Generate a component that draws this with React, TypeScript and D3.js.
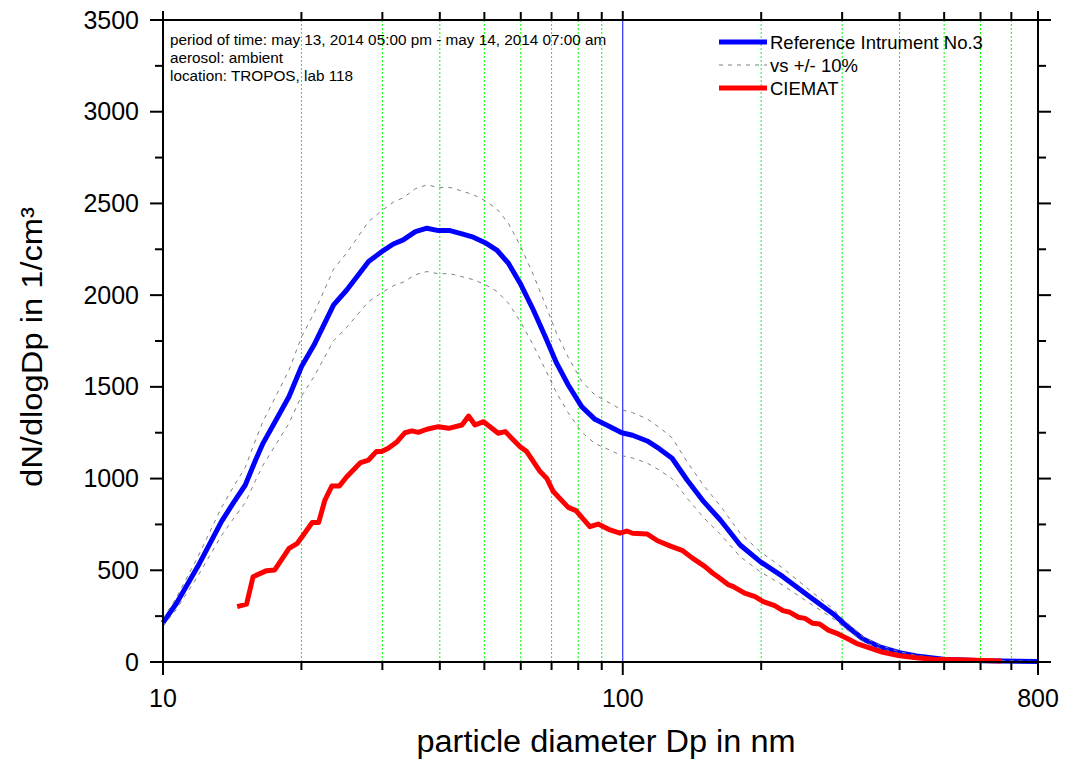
import React from "react";
import * as d3 from "d3";

// Reference instrument No.3 (blue)
const refDiameters = [10, 10.7, 11.9, 13.4, 14.2, 15.1, 15.9, 16.5, 17.7, 18.8, 20.0, 21.3, 23.5, 25.1, 28.0, 29.9, 31.7, 33.3, 35.4, 37.5, 39.7, 42.1, 44.7, 47.3, 50.2, 53.2, 56.4, 59.8, 63.9, 67.8, 71.8, 76.1, 81.4, 87.0, 93.8, 99.5, 105, 113, 120, 128, 138, 150, 163, 180, 199, 223, 255, 287, 307, 333, 362, 400, 435, 498, 608, 800];
const refValues = [215, 320, 520, 765, 865, 965, 1101, 1192, 1329, 1447, 1610, 1728, 1947, 2028, 2183, 2237, 2279, 2301, 2346, 2365, 2352, 2352, 2334, 2316, 2286, 2246, 2174, 2065, 1919, 1774, 1629, 1510, 1392, 1323, 1283, 1250, 1236, 1205, 1163, 1111, 992, 874, 774, 638, 547, 465, 356, 262, 196, 125, 83, 51, 33, 15, 7, 3];

// CIEMAT (red)
const ciematDiameters = [14.5, 15.2, 15.7, 16.8, 17.5, 18.8, 19.6, 20.2, 21.1, 21.8, 22.5, 23.3, 24.2, 25.1, 26.9, 28.0, 29.1, 29.9, 30.9, 32.3, 33.6, 34.8, 35.9, 37.5, 39.7, 41.8, 44.7, 46.2, 47.7, 49.8, 53.6, 55.5, 59.8, 61.8, 66.1, 68.3, 70.6, 76.1, 79.1, 84.8, 88.4, 93.8, 98.6, 102, 105, 113, 119, 127, 135, 142, 151, 157, 161, 170, 174, 184, 194, 202, 214, 223, 231, 241, 249, 259, 268, 280, 294, 307, 322, 339, 368, 400, 435, 473, 559, 666];
const ciematValues = [302, 316, 465, 498, 502, 620, 647, 692, 760, 760, 883, 960, 960, 1010, 1087, 1101, 1147, 1147, 1165, 1201, 1250, 1260, 1252, 1269, 1283, 1274, 1292, 1341, 1292, 1310, 1247, 1256, 1174, 1147, 1038, 1002, 929, 843, 825, 738, 752, 720, 702, 714, 702, 698, 661, 632, 607, 565, 520, 484, 465, 420, 411, 375, 356, 329, 307, 280, 271, 244, 238, 211, 207, 174, 153, 129, 102, 83, 53, 34, 23, 15, 11, 6];

// band of +/- 10 % around the reference
const bandFactors = [1.1, 0.9];

const xMajorTicks = [10, 100, 800];
const xMinorTicks = [20, 30, 40, 50, 60, 70, 80, 90, 200, 300, 400, 500, 600, 700];
const gridTicks = [20, 30, 40, 50, 60, 70, 80, 90, 200, 300, 400, 500, 600, 700];
const yMajorTicks = [0, 500, 1000, 1500, 2000, 2500, 3000, 3500];
const yMinorTicks = [250, 750, 1250, 1750, 2250, 2750, 3250];

const infoLines = [
  "period of time: may 13, 2014 05:00 pm - may 14, 2014 07:00 am",
  "aerosol: ambient",
  "location: TROPOS, lab 118",
];
const legendLabels = ["Reference Intrument No.3", "vs +/- 10%", "CIEMAT"];

const FONT = "'Liberation Sans', Arial, Helvetica, sans-serif";

export default function App() {
  const W = 1065;
  const H = 764;
  const left = 163;
  const right = 1038;
  const top = 20;
  const bottom = 662;

  const x = d3.scaleLog().domain([10, 800]).range([left, right]);
  const y = d3.scaleLinear().domain([0, 3500]).range([bottom, top]);

  const refPts = refDiameters.map((d, i) => [d, refValues[i]] as [number, number]);
  const ciePts = ciematDiameters.map((d, i) => [d, ciematValues[i]] as [number, number]);

  const line = d3
    .line<[number, number]>()
    .x((p) => x(p[0]))
    .y((p) => y(p[1]));

  const majorLen = 13;
  const minorLen = 8;

  return (
    <svg
      width={W}
      height={H}
      style={{ position: "absolute", left: 0, top: 0, background: "#fff" }}
      fontFamily={FONT}
    >
      <rect x={0} y={0} width={W} height={H} fill="#fff" />
      {/* green dotted grid */}
      {gridTicks.map((t) => (
        <line
          key={"g" + t}
          x1={x(t)}
          x2={x(t)}
          y1={top}
          y2={bottom}
          stroke="#00ff00"
          strokeWidth={1}
          strokeDasharray="2,2"
        />
      ))}
      {/* blue vertical at 100 */}
      <line x1={x(100)} x2={x(100)} y1={top} y2={bottom} stroke="#0000ff" strokeWidth={1} />

      {/* reference line */}
      <path
        d={line(refPts) || ""}
        fill="none"
        stroke="#0000ff"
        strokeWidth={5}
        strokeLinejoin="round"
      />
      {/* +/- 10% band */}
      {bandFactors.map((f) => (
        <path
          key={"b" + f}
          d={line(refPts.map((p) => [p[0], p[1] * f] as [number, number])) || ""}
          fill="none"
          stroke="#808080"
          strokeWidth={1}
          strokeDasharray="4,5"
        />
      ))}
      {/* CIEMAT line */}
      <path
        d={line(ciePts) || ""}
        fill="none"
        stroke="#ff0000"
        strokeWidth={5}
        strokeLinejoin="round"
      />

      {/* frame */}
      <rect
        x={left}
        y={top}
        width={right - left}
        height={bottom - top}
        fill="none"
        stroke="#000"
        strokeWidth={2}
      />

      {/* x ticks bottom and top */}
      {xMajorTicks.map((t) => (
        <g key={"xM" + t}>
          <line x1={x(t)} x2={x(t)} y1={bottom} y2={bottom + majorLen} stroke="#000" strokeWidth={2} />
          <line x1={x(t)} x2={x(t)} y1={top} y2={top - majorLen + 4} stroke="#000" strokeWidth={2} />
          <text x={x(t)} y={707} textAnchor="middle" fontSize={25} fill="#000">
            {t}
          </text>
        </g>
      ))}
      {xMinorTicks.map((t) => (
        <g key={"xm" + t}>
          <line x1={x(t)} x2={x(t)} y1={bottom} y2={bottom + minorLen} stroke="#000" strokeWidth={2} />
          <line x1={x(t)} x2={x(t)} y1={top} y2={top - minorLen} stroke="#000" strokeWidth={2} />
        </g>
      ))}

      {/* y ticks left and right */}
      {yMajorTicks.map((t) => (
        <g key={"yM" + t}>
          <line x1={left} x2={left - majorLen} y1={y(t)} y2={y(t)} stroke="#000" strokeWidth={2} />
          <line x1={right} x2={right + majorLen} y1={y(t)} y2={y(t)} stroke="#000" strokeWidth={2} />
          <text x={139} y={y(t) + 8.5} textAnchor="end" fontSize={25} fill="#000">
            {t}
          </text>
        </g>
      ))}
      {yMinorTicks.map((t) => (
        <g key={"ym" + t}>
          <line x1={left} x2={left - minorLen} y1={y(t)} y2={y(t)} stroke="#000" strokeWidth={2} />
          <line x1={right} x2={right + minorLen} y1={y(t)} y2={y(t)} stroke="#000" strokeWidth={2} />
        </g>
      ))}

      {/* axis titles */}
      <text
        x={606}
        y={752}
        textAnchor="middle"
        fontSize={31}
        fill="#000"
        textLength={379}
        lengthAdjust="spacingAndGlyphs"
      >
        particle diameter Dp in nm
      </text>
      <text
        transform="translate(42,347) rotate(-90)"
        textAnchor="middle"
        fontSize={30}
        fill="#000"
        textLength={280}
        lengthAdjust="spacingAndGlyphs"
      >
        dN/dlogDp in 1/cm³
      </text>

      {/* info text */}
      {infoLines.map((s, i) => (
        <text key={"i" + i} x={170} y={45 + i * 18} fontSize={15.3} fill="#000">
          {s}
        </text>
      ))}

      {/* legend */}
      <g>
        <line x1={719} x2={767} y1={42} y2={42} stroke="#0000ff" strokeWidth={5} />
        <text x={770} y={48.5} fontSize={18.5} fill="#000">
          {legendLabels[0]}
        </text>
        <line x1={719} x2={767} y1={65} y2={65} stroke="#808080" strokeWidth={1} strokeDasharray="4,5" />
        <text x={770} y={71.5} fontSize={18.5} fill="#000">
          {legendLabels[1]}
        </text>
        <line x1={719} x2={767} y1={88} y2={88} stroke="#ff0000" strokeWidth={5} />
        <text x={770} y={94.5} fontSize={18.5} fill="#000">
          {legendLabels[2]}
        </text>
      </g>
    </svg>
  );
}
